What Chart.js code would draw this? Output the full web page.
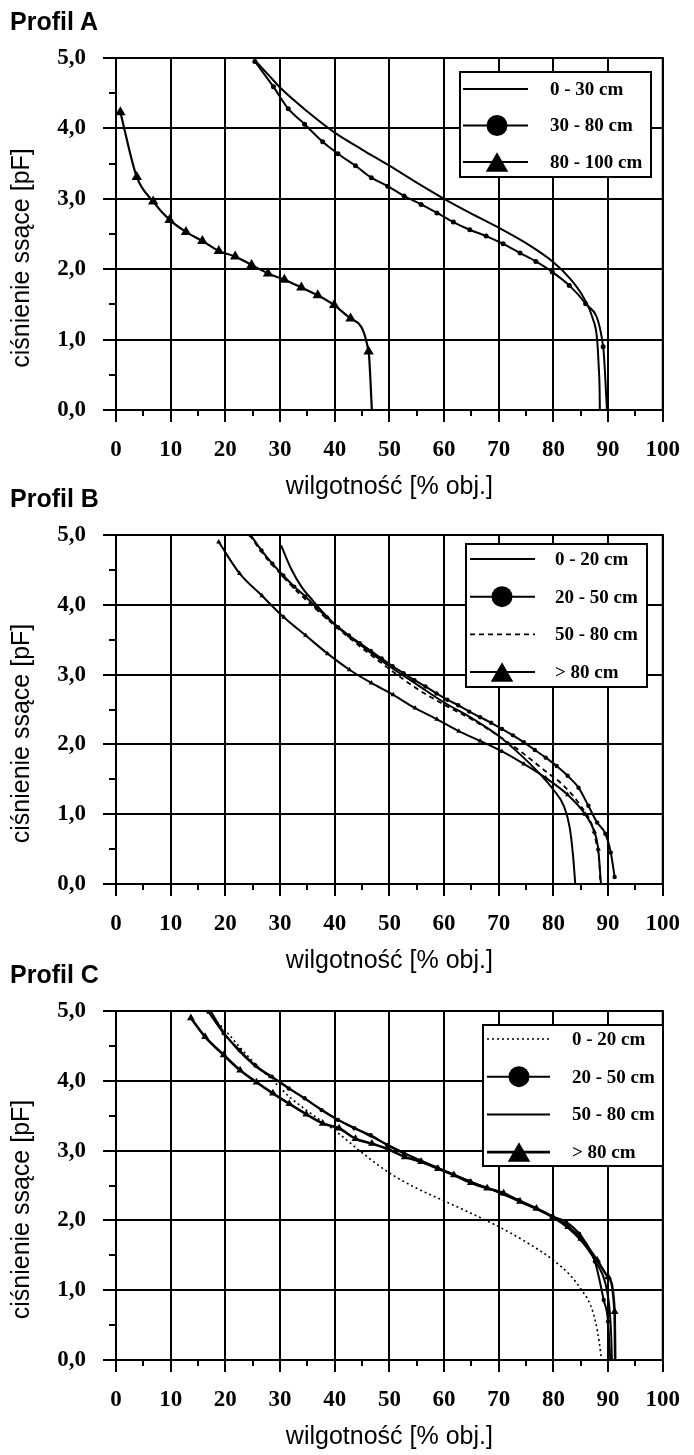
<!DOCTYPE html>
<html>
<head>
<meta charset="utf-8">
<script src="https://cdn.jsdelivr.net/npm/chart.js@4.4.0/dist/chart.umd.min.js"></script>
<style>
body { margin: 0; background: #fff; width: 694px; height: 1455px; position: relative; overflow: hidden; }
.panel { position: absolute; left: 0; width: 694px; height: 502px; }
.panel canvas { position: absolute; left: 0; top: 0; }
.profil { position: absolute; left: 10px; top: 7px; font: bold 25px "Liberation Sans", Arial, sans-serif; color: #000; }
</style>
</head>
<body>
<div class="panel" style="top:0px"><canvas id="cA" width="694" height="502"></canvas><div class="profil">Profil A</div></div>
<div class="panel" style="top:477px"><canvas id="cB" width="694" height="502"></canvas><div class="profil">Profil B</div></div>
<div class="panel" style="top:953px"><canvas id="cC" width="694" height="502"></canvas><div class="profil">Profil C</div></div>
<script>
// osie
var xTitle = 'wilgotność [% obj.]';
var yTitle = 'ciśnienie ssące [pF]';
var yTickLabels = ['0,0', '1,0', '2,0', '3,0', '4,0', '5,0'];

// Profil A
var aLabels = ['0 - 30 cm', '30 - 80 cm', '80 - 100 cm'];
var aX1 = [25.6, 28, 30, 35, 40, 45, 50, 55, 60, 65, 70, 75, 80, 83, 85.5, 87.2, 88, 88.3, 88.45, 88.5];
var aY1 = [4.95, 4.75, 4.58, 4.24, 3.94, 3.70, 3.47, 3.23, 3.00, 2.79, 2.59, 2.37, 2.10, 1.87, 1.60, 1.30, 1.00, 0.60, 0.30, 0];
var aX2 = [25.4, 28.8, 31.5, 34.5, 37.8, 40.6, 43.8, 46.7, 49.7, 52.7, 55.8, 58.7, 61.7, 64.7, 67.7, 70.8, 73.9, 76.8, 79.8, 82.9, 85.9, 89.1, 89.8];
var aY2 = [4.95, 4.59, 4.28, 4.06, 3.81, 3.64, 3.47, 3.30, 3.18, 3.04, 2.92, 2.80, 2.67, 2.56, 2.47, 2.36, 2.23, 2.11, 1.96, 1.77, 1.51, 0.90, 0];
var aX3 = [0.8, 3.8, 6.8, 9.8, 12.8, 15.8, 18.8, 21.8, 24.8, 27.8, 30.8, 33.9, 36.9, 39.9, 42.9, 46.2, 46.8];
var aY3 = [4.23, 3.31, 2.96, 2.70, 2.53, 2.40, 2.26, 2.18, 2.06, 1.94, 1.85, 1.74, 1.63, 1.49, 1.30, 0.83, 0];

// Profil B
var bLabels = ['0 - 20 cm', '20 - 50 cm', '50 - 80 cm', '> 80 cm'];
var bX1 = [30.2, 32, 34, 36, 38, 40, 43, 46, 50, 55, 60, 65, 70, 74, 77, 80, 82, 83, 83.6, 84];
var bY1 = [4.85, 4.52, 4.25, 4.06, 3.88, 3.72, 3.53, 3.35, 3.12, 2.86, 2.60, 2.38, 2.12, 1.85, 1.62, 1.35, 1.10, 0.80, 0.40, 0];
var bX2 = [24.6, 26.6, 28.6, 30.6, 32.6, 34.6, 36.6, 38.6, 40.6, 42.6, 44.6, 46.6, 48.6, 50.6, 52.6, 54.6, 56.6, 58.6, 60.6, 62.6, 64.6, 66.6, 68.6, 70.6, 72.6, 74.6, 76.6, 78.6, 80.6, 82.6, 84.6, 86.4, 88, 89.5, 90.5, 91.2];
var bY2 = [5.0, 4.78, 4.59, 4.42, 4.26, 4.12, 3.97, 3.82, 3.68, 3.56, 3.45, 3.34, 3.23, 3.12, 3.02, 2.92, 2.83, 2.73, 2.64, 2.56, 2.47, 2.39, 2.31, 2.22, 2.13, 2.03, 1.92, 1.81, 1.69, 1.55, 1.38, 1.12, 0.88, 0.72, 0.45, 0.10];
var bX3 = [24.4, 27, 30, 33, 36, 40, 45, 50, 55, 60, 65, 70, 74, 78, 82, 85, 87, 87.8, 88.4, 88.6];
var bY3 = [5.0, 4.72, 4.45, 4.20, 3.98, 3.70, 3.38, 3.08, 2.80, 2.57, 2.36, 2.12, 1.90, 1.65, 1.40, 1.12, 0.85, 0.60, 0.30, 0];
var bX4 = [18.8, 22.6, 26.7, 30.7, 34.7, 38.7, 42.7, 46.7, 50.7, 54.7, 58.7, 62.7, 66.6, 70.6, 74.6, 78.6, 82.6, 85.8, 87.5, 88.2, 88.7];
var bY4 = [4.90, 4.45, 4.13, 3.82, 3.56, 3.30, 3.07, 2.88, 2.71, 2.52, 2.36, 2.19, 2.05, 1.90, 1.72, 1.52, 1.28, 1.00, 0.75, 0.50, 0];

// Profil C
var cLabels = ['0 - 20 cm', '20 - 50 cm', '50 - 80 cm', '> 80 cm'];
var cX1 = [16.6, 20, 23, 26, 29, 32, 35, 38, 40, 45, 50, 55, 60, 65, 70, 75, 80, 83, 85, 86.7, 87.7, 88.4, 88.8];
var cY1 = [5.0, 4.72, 4.45, 4.20, 3.98, 3.75, 3.57, 3.40, 3.29, 2.97, 2.68, 2.46, 2.28, 2.10, 1.91, 1.69, 1.43, 1.22, 1.02, 0.80, 0.55, 0.25, 0];
var cX2 = [16.9, 19.7, 22.6, 25.5, 28.5, 31.6, 34.5, 37.6, 40.6, 43.6, 46.6, 49.6, 52.7, 55.7, 58.7, 61.7, 64.7, 67.7, 70.7, 73.7, 76.7, 79.7, 82.3, 84.7, 87.6, 89.2, 90, 90.4];
var cY2 = [4.99, 4.68, 4.44, 4.22, 4.06, 3.89, 3.75, 3.58, 3.44, 3.32, 3.22, 3.08, 2.96, 2.86, 2.76, 2.66, 2.56, 2.47, 2.39, 2.29, 2.18, 2.06, 1.98, 1.81, 1.41, 0.86, 0.55, 0];
var cX3 = [17.3, 20, 25, 30, 35, 40, 45, 50, 55, 60, 65, 70, 75, 80, 83, 86, 88, 89.5, 90.3, 90.6, 90.7];
var cY3 = [5.0, 4.66, 4.24, 3.98, 3.72, 3.47, 3.27, 3.07, 2.88, 2.71, 2.55, 2.40, 2.23, 2.04, 1.87, 1.62, 1.37, 1.10, 0.70, 0.30, 0];
var cX4 = [13.7, 16.3, 19.7, 22.7, 25.7, 28.7, 31.7, 34.8, 37.8, 40.8, 43.8, 46.8, 49.8, 52.8, 55.8, 58.9, 61.8, 64.9, 67.9, 70.9, 73.9, 76.9, 79.9, 82.7, 85.1, 88, 90, 91.2, 91.3];
var cY4 = [4.90, 4.63, 4.37, 4.15, 3.98, 3.82, 3.67, 3.52, 3.39, 3.32, 3.17, 3.10, 3.02, 2.91, 2.84, 2.74, 2.65, 2.54, 2.46, 2.39, 2.27, 2.17, 2.05, 1.91, 1.74, 1.43, 1.19, 0.69, 0];

var sans = '"Liberation Sans", Arial, sans-serif';
var serif = '"Liberation Serif", "Times New Roman", serif';

function pts(xs, ys) {
    return xs.map(function(x, i) { return {x: x, y: ys[i]}; });
}

function series(label, xs, ys, st) {
    var r = st.pointRadius || 0;
    var ds = {
        label: label,
        data: pts(xs, ys),
        showLine: true,
        borderColor: '#000',
        backgroundColor: '#000',
        borderWidth: 2,
        pointBorderWidth: 0,
        pointHoverRadius: 0,
        cubicInterpolationMode: 'monotone',
        legendRadius: 0
    };
    for (var k in st) ds[k] = st[k];
    // no marker where the curve runs into the axis
    ds.pointRadius = function(c) { return (c.raw && c.raw.y === 0) ? 0 : r; };
    return ds;
}

var framePlugin = {
    id: 'frame',
    afterDatasetsDraw: function(chart, args, opts) {
        var ctx = chart.ctx, a = chart.chartArea;
        var x = chart.scales.x, y = chart.scales.y;
        ctx.save();
        ctx.strokeStyle = '#000';
        ctx.lineWidth = 2;
        ctx.strokeRect(a.left, a.top, a.right - a.left, a.bottom - a.top);

        // minor ticks
        ctx.beginPath();
        for (var v = 5; v < 100; v += 10) {
            var px = Math.round(x.getPixelForValue(v));
            ctx.moveTo(px, a.bottom);
            ctx.lineTo(px, a.bottom + 6);
        }
        for (var w = 0.5; w < 5; w += 1) {
            var py = Math.round(y.getPixelForValue(w));
            ctx.moveTo(a.left - 7, py);
            ctx.lineTo(a.left, py);
        }
        ctx.stroke();

        // y title
        ctx.save();
        ctx.translate(22, (a.top + a.bottom) / 2 + 24);
        ctx.rotate(-Math.PI / 2);
        ctx.fillStyle = '#000';
        ctx.font = '25px ' + sans;
        ctx.textAlign = 'center';
        ctx.textBaseline = 'middle';
        ctx.fillText(yTitle, 0, 0);
        ctx.restore();

        // legend box
        var lg = opts.box;
        ctx.fillStyle = '#fff';
        ctx.fillRect(lg.x, lg.y, lg.w, lg.h);
        ctx.strokeRect(lg.x, lg.y, lg.w, lg.h);
        chart.data.datasets.forEach(function(ds, i) {
            var cy = lg.row + i * lg.gap;
            ctx.save();
            ctx.lineWidth = ds.borderWidth;
            ctx.setLineDash(ds.legendDash || ds.borderDash || []);
            ctx.beginPath();
            ctx.moveTo(lg.x0, cy);
            ctx.lineTo(lg.x1, cy);
            ctx.stroke();
            ctx.restore();
            ctx.fillStyle = '#000';
            var rr = ds.legendRadius;
            if (rr && ds.pointStyle === 'circle') {
                ctx.beginPath();
                ctx.arc(lg.mx, cy, rr, 0, Math.PI * 2);
                ctx.fill();
            } else if (rr && ds.pointStyle === 'triangle') {
                var ty = cy + rr * 0.25;
                ctx.beginPath();
                ctx.moveTo(lg.mx, ty - rr);
                ctx.lineTo(lg.mx + rr * 0.866, ty + rr * 0.5);
                ctx.lineTo(lg.mx - rr * 0.866, ty + rr * 0.5);
                ctx.closePath();
                ctx.fill();
            }
            ctx.font = 'bold 19px ' + serif;
            ctx.textAlign = 'left';
            ctx.textBaseline = 'middle';
            ctx.fillText(ds.label, lg.tx, cy + 1);
        });
        ctx.restore();
    }
};

function makeChart(id, plotBottom, box, datasets) {
    return new Chart(document.getElementById(id), {
        type: 'scatter',
        data: {datasets: datasets},
        plugins: [framePlugin],
        options: {
            responsive: false,
            animation: false,
            events: [],
            layout: {padding: {left: 6, right: 23, top: 58, bottom: 502 - 92 - plotBottom}},
            plugins: {
                legend: {display: false},
                tooltip: {enabled: false},
                frame: {box: box}
            },
            scales: {
                x: {
                    type: 'linear', min: 0, max: 100,
                    afterFit: function(s) { s.height = 92; },
                    grid: {color: '#000', lineWidth: 2, tickLength: 12},
                    border: {color: '#000', width: 2},
                    ticks: {stepSize: 10, color: '#000', padding: 14, maxRotation: 0, autoSkip: false,
                            font: {family: serif, size: 23, weight: 'bold'}},
                    title: {display: true, text: xTitle, color: '#000', padding: 0,
                            font: {family: sans, size: 25}}
                },
                y: {
                    type: 'linear', min: 0, max: 5,
                    afterFit: function(s) { s.width = 110; },
                    grid: {color: '#000', lineWidth: 2, tickLength: 13},
                    border: {color: '#000', width: 2},
                    ticks: {stepSize: 1, color: '#000', padding: 17,
                            font: {family: serif, size: 23, weight: 'bold'},
                            callback: function(v) { return yTickLabels[Math.round(v)]; }}
                }
            }
        }
    });
}

makeChart('cA', 410,
    {x: 460, y: 72, w: 191, h: 105, row: 89, gap: 36.5, x0: 463, x1: 528, mx: 497, tx: 550},
    [
        series(aLabels[0], aX1, aY1, {}),
        series(aLabels[1], aX2, aY2, {pointStyle: 'circle', pointRadius: 2.5, legendRadius: 10.5}),
        series(aLabels[2], aX3, aY3, {pointStyle: 'triangle', pointRadius: 6, legendRadius: 13, borderWidth: 2.2})
    ]);

makeChart('cB', 407,
    {x: 466, y: 67, w: 181, h: 143, row: 82, gap: 37.7, x0: 470, x1: 535, mx: 502, tx: 555},
    [
        series(bLabels[0], bX1, bY1, {}),
        series(bLabels[1], bX2, bY2, {pointStyle: 'circle', pointRadius: 2.2, legendRadius: 10.5}),
        series(bLabels[2], bX3, bY3, {borderDash: [5, 4], borderWidth: 1.8}),
        series(bLabels[3], bX4, bY4, {pointStyle: 'triangle', pointRadius: 3, legendRadius: 13})
    ]);

makeChart('cC', 407,
    {x: 483, y: 72, w: 180, h: 141, row: 86, gap: 37.7, x0: 487, x1: 550, mx: 519, tx: 572},
    [
        series(cLabels[0], cX1, cY1, {borderDash: [2, 3], borderWidth: 1.6}),
        series(cLabels[1], cX2, cY2, {pointStyle: 'circle', pointRadius: 2.2, legendRadius: 10.5}),
        series(cLabels[2], cX3, cY3, {}),
        series(cLabels[3], cX4, cY4, {pointStyle: 'triangle', pointRadius: 4.5, legendRadius: 13, borderWidth: 2.6})
    ]);
</script>
</body>
</html>
